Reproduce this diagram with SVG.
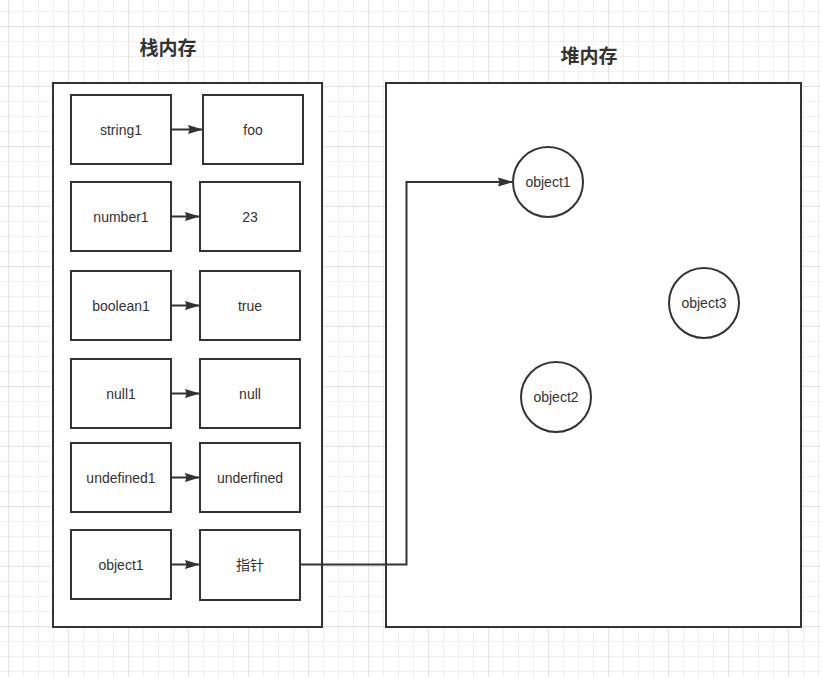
<svg xmlns="http://www.w3.org/2000/svg" width="821" height="677" viewBox="0 0 821 677">
<style>
.box{fill:#fff;stroke:#333;stroke-width:2}
.cont{fill:#fff;stroke:#333;stroke-width:2}
.circ{fill:#fff;stroke:#333;stroke-width:2}
.lbl{font-family:"Liberation Sans","Noto Sans CJK SC",sans-serif;font-size:14px;fill:#333;text-anchor:middle;dominant-baseline:central}
.title{font-family:"Noto Sans CJK SC",sans-serif;font-size:19px;font-weight:bold;fill:#333;text-anchor:middle;dominant-baseline:central}
.edge{fill:none;stroke:#333;stroke-width:2}
</style>
<defs>
<pattern id="minor" x="8" y="11" width="15" height="15" patternUnits="userSpaceOnUse">
<path d="M0.5 0V15M0 0.5H15" stroke="#f0f0f0" stroke-width="1" fill="none"/>
</pattern>
<pattern id="major" x="68" y="26" width="60" height="60" patternUnits="userSpaceOnUse">
<path d="M0.5 0V60M0 0.5H60" stroke="#e2e2e2" stroke-width="1" fill="none"/>
</pattern>
<marker id="arr" viewBox="0 0 15 10" refX="14" refY="5" markerWidth="15" markerHeight="10" markerUnits="userSpaceOnUse" orient="auto">
<path d="M0 0.5L15 5L0 9.5L1.5 5Z" fill="#333"/>
</marker>
</defs>
<rect width="821" height="677" fill="#fff"/>
<rect width="821" height="677" fill="url(#minor)"/>
<rect width="821" height="677" fill="url(#major)"/>

<g id="stack">
<rect class="cont" x="53" y="83" width="269" height="544"/>
<text class="title" x="168" y="46">栈内存</text>
</g>
<g id="heap">
<rect class="cont" x="386" y="83" width="415" height="544"/>
<text class="title" x="589" y="54">堆内存</text>
</g>

<g id="string1"><rect class="box" x="71" y="95" width="100" height="69"/><text class="lbl" x="121" y="130">string1</text></g>
<g id="foo"><rect class="box" x="203" y="95" width="100" height="69"/><text class="lbl" x="253" y="130">foo</text></g>
<g id="number1"><rect class="box" x="71" y="182" width="100" height="69"/><text class="lbl" x="121" y="217">number1</text></g>
<g id="v23"><rect class="box" x="200" y="182" width="100" height="69"/><text class="lbl" x="250" y="217">23</text></g>
<g id="boolean1"><rect class="box" x="71" y="271" width="100" height="69"/><text class="lbl" x="121" y="306">boolean1</text></g>
<g id="true"><rect class="box" x="200" y="271" width="100" height="69"/><text class="lbl" x="250" y="306">true</text></g>
<g id="null1"><rect class="box" x="71" y="359" width="100" height="69"/><text class="lbl" x="121" y="394">null1</text></g>
<g id="null"><rect class="box" x="200" y="359" width="100" height="69"/><text class="lbl" x="250" y="394">null</text></g>
<g id="undefined1"><rect class="box" x="71" y="443" width="100" height="69"/><text class="lbl" x="121" y="478">undefined1</text></g>
<g id="underfined"><rect class="box" x="200" y="443" width="100" height="69"/><text class="lbl" x="250" y="478">underfined</text></g>
<g id="object1-var"><rect class="box" x="71" y="530" width="100" height="69"/><text class="lbl" x="121" y="565">object1</text></g>
<g id="pointer"><rect class="box" x="200" y="530" width="100" height="70"/><text class="lbl" x="250" y="565">指针</text></g>

<g id="obj1"><circle class="circ" cx="548" cy="182" r="35"/><text class="lbl" x="548" y="182">object1</text></g>
<g id="obj2"><circle class="circ" cx="556" cy="397" r="35"/><text class="lbl" x="556" y="397">object2</text></g>
<g id="obj3"><circle class="circ" cx="704" cy="303" r="35"/><text class="lbl" x="704" y="303">object3</text></g>

<g id="connectors">
<path class="edge" d="M171 129.5H202" marker-end="url(#arr)"/>
<path class="edge" d="M171 216.5H199" marker-end="url(#arr)"/>
<path class="edge" d="M171 305.5H199" marker-end="url(#arr)"/>
<path class="edge" d="M171 393.5H199" marker-end="url(#arr)"/>
<path class="edge" d="M171 477.5H199" marker-end="url(#arr)"/>
<path class="edge" d="M171 564.5H199" marker-end="url(#arr)"/>
<path class="edge" d="M300 564.5H406.5V182H512" marker-end="url(#arr)"/>
</g>
</svg>
